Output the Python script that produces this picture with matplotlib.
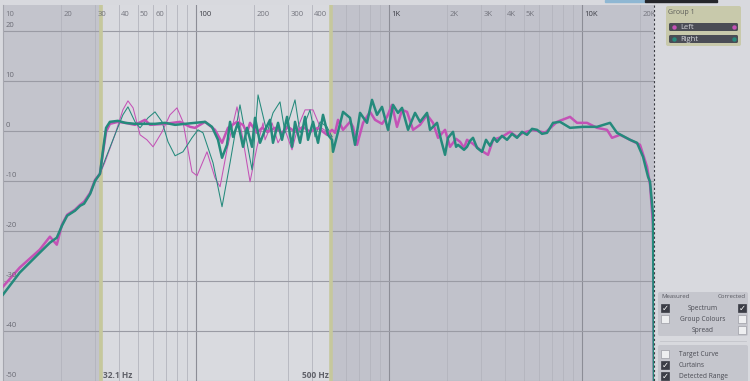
import matplotlib
matplotlib.use("Agg")
import matplotlib.pyplot as plt
from matplotlib.patches import Rectangle, FancyBboxPatch
from matplotlib.lines import Line2D
import matplotlib.transforms as mtransforms

plt.rcParams['font.family'] = ['Open Sans', 'DejaVu Sans']

# ---- data (Hz, dB) ----
low_f = [10, 12.2, 15.5, 17.5, 19.0, 20.2, 21.5, 23.6, 25.1, 26.3, 28.3, 30.0, 31.8]
left_low_db = [-31.1, -27.3, -23.7, -21.1, -22.7, -18.7, -16.7, -15.7, -14.7, -14.1, -12.3, -9.7, -8.5]
right_low_db = [-32.7, -28.3, -24.3, -22.3, -21.3, -18.9, -16.9, -15.9, -14.9, -14.5, -12.5, -9.9, -8.5]

# measured (thin) 32 Hz - 500 Hz
left_meas_f = [33.8, 38.0, 41.8, 44.4, 47.2, 51.3, 55.7, 59.9, 66.7, 73.3, 79.7, 85.6, 95.3, 101.2,
               114.0, 125.4, 133.2, 144.7, 163.1, 175.2, 190.5, 207.1, 222.5, 227.9, 247.7, 266.1,
               289.2, 314.4, 337.7, 367.2, 403.9, 439.1, 477.2, 506.6]
left_meas_db = [-6.1, -0.7, 4.3, 6.1, 4.7, -0.7, -1.7, -3.1, -0.1, 3.3, 4.7, 1.9, -8.1, -8.9,
                -4.1, -9.3, -11.1, -3.7, 4.9, -1.7, -10.1, -3.1, 1.7, -1.7, 1.7, -2.3,
                0.3, -3.7, 0.9, 4.3, 4.3, 0.9, -0.1, -1.1]
right_meas_f = [33.8, 38.0, 41.8, 44.4, 48.3, 51.3, 56.4, 61.3, 66.7, 71.6, 77.9, 85.6, 95.3, 102.4,
                108.7, 122.5, 136.4, 150.1, 169.0, 195.1, 209.6, 233.4, 250.6, 272.4, 289.2, 325.8,
                345.9, 367.2, 389.7, 413.7, 439.1, 477.2, 506.6]
right_meas_db = [-5.7, -0.7, 3.3, 4.9, 1.9, 0.7, 2.7, 3.9, 1.9, -2.1, -4.9, -4.1, -1.3, 0.3,
                 -0.3, -6.3, -15.1, -6.3, 5.3, -7.7, 7.3, -0.3, 3.7, 5.9, -0.3, 6.3,
                 -0.3, 1.7, 4.3, -1.1, 1.9, 0.9, -1.1]

# corrected (thick) 32 Hz - 23.6 kHz
left_corr_f = [33.0, 34.2, 35.8, 39.4, 42.9, 48.3, 54.4, 57.8, 69.1, 82.6, 93.1, 98.8, 111.4, 125.4,
               136.4, 146.5, 163.1, 175.2, 183.8, 190.5, 207.1, 219.8, 236.2, 256.7, 279.0, 299.8,
               325.8, 358.5, 389.7, 428.7, 477.2, 506.6, 525.1, 544.2, 577.7, 628.1, 651.0, 682.9,
               733.5, 797.2, 846.3, 919.9, 976.3, 1036, 1100, 1168, 1240, 1332, 1448, 1574, 1690,
               1795, 1951, 2071, 2225, 2334, 2447, 2536, 2724, 2961, 3258, 3459, 3849, 4236, 4605,
               4946, 5572, 6432, 7421, 8667, 9422, 10615, 11960, 13474, 14302, 15737, 17736,
               19976, 21720, 22510, 23330, 23600]
left_corr_db = [-4.1, -0.1, 1.5, 1.9, 1.7, 1.3, 2.3, 1.3, 1.5, 1.9, 0.9, 0.7, 1.9, 0.3,
                -2.3, 0.7, 1.9, 1.3, -0.3, 1.7, -0.3, 0.7, -0.1, 0.7, -0.3, 0.9,
                -0.1, 0.9, -0.1, 0.7, -0.7, 0.3, -0.3, 2.3, 0.3, 1.9, 0.9, -2.7,
                1.7, 3.9, 2.3, 1.5, 2.9, 5.3, 0.9, 4.3, 3.9, 0.3, 1.3, 3.3, 1.7,
                -1.3, 0.3, -3.1, -1.5, -2.1, -3.3, -1.7, -2.5, -3.7, -4.7, -1.7, -1.1, -0.1, -1.1,
                -0.3, 0.3, -0.3, 1.9, 2.9, 1.7, 1.7, 0.7, 0.3, -1.3, -0.7, -1.7,
                -2.7, -7.1, -10.7, -18.7, -52]
right_corr_f = [33.0, 34.2, 35.8, 39.4, 42.9, 48.3, 54.4, 61.3, 69.1, 77.9, 87.7, 98.8, 111.4, 121.0,
                130.0, 136.4, 144.7, 150.1, 155.5, 165.0, 175.2, 183.8, 195.1, 202.2, 214.6, 227.9,
                241.8, 250.6, 266.1, 279.0, 296.2, 314.4, 325.8, 345.9, 367.2, 380.5, 403.9, 428.7,
                455.0, 483.0, 506.6, 512.7, 577.7, 628.1, 666.8, 707.7, 769.1, 816.4, 866.7, 919.9,
                988.1, 1049, 1113, 1168, 1255, 1364, 1448, 1574, 1631, 1773, 1860, 1951, 2021, 2146,
                2225, 2278, 2447, 2536, 2628, 2724, 2858, 3033, 3181, 3337, 3499, 3627, 3849, 4087,
                4338, 4605, 4888, 5188, 5508, 5847, 6204, 6588, 7075, 7691, 8667, 10120, 11960,
                13965, 15183, 17736, 19275, 20706, 21980, 22510, 23330, 23600]
right_corr_db = [-3.7, 0.7, 1.9, 2.1, 1.7, 1.5, 1.5, 1.5, 1.7, 1.3, 1.5, 1.7, 1.9, 0.9,
                 -1.7, -5.3, -2.7, 1.9, -1.1, 1.7, -3.1, 0.7, -3.1, 2.7, -2.3, 0.3,
                 2.3, -2.3, 1.7, -1.7, 2.9, -3.1, 1.9, -2.3, 2.9, -1.7, 1.9, -2.3,
                 3.3, -0.7, -1.7, -4.1, 3.9, 2.7, -2.7, 3.7, 1.7, 6.3, 3.3, 4.9,
                 0.3, 5.3, 3.7, 4.7, 0.3, 3.7, 1.9, 3.7, 0.3, 1.7, -1.7, -4.7, -1.3, -0.1,
                 -3.1, -2.7, -3.7, -3.1, -1.9, -1.3, -3.3, -4.1, -1.7, -2.9, -1.3, -2.1, -0.9, -1.7,
                 -0.5, -1.3, -0.1, -0.7, 0.5, 0.3, -0.5, -0.3, 1.7, 1.9, 0.7, 0.9, 0.9,
                 1.7, -0.3, -1.7, -2.3, -5.1, -9.1, -10.1, -16.7, -52]

freq_ticks = [10, 20, 30, 40, 50, 60, 100, 200, 300, 400, 1000, 2000, 3000, 4000, 5000, 10000, 20000]
freq_labels = ['10', '20', '30', '40', '50', '60', '100', '200', '300', '400',
               '1K', '2K', '3K', '4K', '5K', '10K', '20K']
db_ticks = [20, 10, 0, -10, -20, -30, -40, -50]
range_lo, range_hi = 32.1, 500

magenta = '#c452b6'
teal = '#258a7c'

fig = plt.figure(figsize=(7.5, 3.81), dpi=100)
fig.patch.set_facecolor('#d8d9de')

ax = fig.add_axes([3 / 750, 0, 651 / 750, 376 / 381])
ax.set_xscale('log')
ax.set_xlim(10, 23600)
ax.set_ylim(-50, 25.3)
ax.set_facecolor('#d9dadf')
for s in ax.spines.values():
    s.set_visible(False)
ax.spines['left'].set_visible(True)
ax.spines['left'].set_color('#a5a6ae')
ax.tick_params(which='both', length=0, labelbottom=False, labelleft=False)
ax.minorticks_off()

# curtains + detected range
ax.axvspan(10, range_lo, color='#c3c4cc', zorder=0)
ax.axvspan(range_hi, 23600, color='#c1c2cb', zorder=0)
for f in (range_lo, range_hi):
    ax.axvline(f, color='#c6c89c', lw=2.6, zorder=1)

# grid
minor = [m * d for d in (10, 100, 1000, 10000) for m in range(2, 10) if m * d < 23600]
for f in minor:
    ax.axvline(f, color='#b3b4bd', lw=0.6, zorder=0.5)
for f in (100, 1000, 10000):
    ax.axvline(f, color='#8c8d96', lw=0.8, zorder=0.5)
for d in db_ticks:
    ax.axhline(d, color='#9a9ba4', lw=0.8, zorder=0.5)

# curves
ax.plot(low_f + left_meas_f, left_low_db + left_meas_db, color=magenta, lw=0.75, zorder=3)
ax.plot(low_f + right_meas_f, right_low_db + right_meas_db, color=teal, lw=0.75, zorder=3)
ax.plot(low_f + left_corr_f, left_low_db + left_corr_db, color=magenta, lw=1.8, zorder=4,
        solid_joinstyle='round')
ax.plot(low_f + right_corr_f, right_low_db + right_corr_db, color=teal, lw=1.8, zorder=5,
        solid_joinstyle='round')

# axis labels inside plot
tx = mtransforms.blended_transform_factory(ax.transData, ax.transAxes)
ty = mtransforms.blended_transform_factory(ax.transAxes, ax.transData)
for f, lab in zip(freq_ticks, freq_labels):
    major = lab in ('100', '1K', '10K')
    ax.text(f * 1.025, 0.985, lab, transform=tx, ha='left', va='top', fontsize=5.5,
            color='#3c3d45' if major else '#74757e', zorder=6)
for d in db_ticks:
    ax.text(0.004, d + 0.5, str(d), transform=ty, ha='left', va='bottom', fontsize=5.5,
            color='#6a6b74', zorder=6)
ax.text(range_lo * 1.03, 0.002, '32.1 Hz', transform=tx, ha='left', va='bottom', fontsize=6,
        fontweight='bold', color='#5f6068', zorder=6)
ax.text(range_hi * 0.975, 0.002, '500 Hz', transform=tx, ha='right', va='bottom', fontsize=6,
        fontweight='bold', color='#5f6068', zorder=6)

# right side panel in pixel coordinates
pax = fig.add_axes([0, 0, 1, 1], zorder=10)
pax.set_xlim(0, 750)
pax.set_ylim(381, 0)
pax.axis('off')

pax.add_line(Line2D([654, 654], [5, 381], color='#3a3b42', lw=0.8, ls=(0, (2, 2))))
pax.add_patch(Rectangle((605, 0), 40, 2, color='#8fb7d3'))
pax.add_patch(Rectangle((645, 0), 72, 2, color='#25262b'))

pax.add_patch(FancyBboxPatch((666, 6), 75, 40, boxstyle='round,pad=0,rounding_size=2',
                             fc='#c8c9ab', ec='none'))
pax.text(668, 12, 'Group 1', fontsize=5, color='#5d5e5a', va='center')
for y, lab, col in ((27, 'Left', magenta), (39, 'Right', teal)):
    pax.add_patch(FancyBboxPatch((669, y - 4), 69, 8, boxstyle='round,pad=0,rounding_size=1.5',
                                 fc='#4a4c55', ec='none'))
    pax.plot([673.5, 733.5], [y, y], 'o', ms=3.2, color=col, mec='none')
    pax.text(680, y + 0.3, lab, fontsize=5.5, color='#d5d6da', va='center')


def checkbox(x, y, checked):
    pax.add_patch(Rectangle((x - 4, y - 4), 8, 8,
                            fc='#3b3d46' if checked else '#eeeff1',
                            ec='#3b3d46' if checked else '#9c9da5', lw=0.5))
    if checked:
        pax.text(x, y + 0.3, '\u2713', fontsize=6, color='white', ha='center', va='center',
                 family='DejaVu Sans', fontweight='bold')


pax.add_patch(FancyBboxPatch((658, 292), 90, 44, boxstyle='round,pad=0,rounding_size=2',
                             fc='#c5c6cd', ec='none'))
pax.text(661, 297, 'Measured', fontsize=4.3, color='#55565e', va='center')
pax.text(746, 297, 'Corrected', fontsize=4.3, color='#55565e', va='center', ha='right')
rows = [('Spectrum', 308, True, True), ('Group Colours', 319, False, False), ('Spread', 330, None, False)]
for lab, y, left_on, right_on in rows:
    if left_on is not None:
        checkbox(665, y, left_on)
    checkbox(742, y, right_on)
    pax.text(703, y + 0.3, lab, fontsize=4.8, color='#4a4b53', va='center', ha='center')

pax.add_line(Line2D([660, 746], [341, 341], color='#c3c4ca', lw=0.6))
pax.add_patch(FancyBboxPatch((658, 345), 90, 40, boxstyle='round,pad=0,rounding_size=2',
                             fc='#c5c6cd', ec='none'))
for lab, y, on in (('Target Curve', 354, False), ('Curtains', 365, True), ('Detected Range', 376, True)):
    checkbox(665, y, on)
    pax.text(679, y + 0.3, lab, fontsize=4.8, color='#4a4b53', va='center')

fig.savefig('out.png', dpi=100)
